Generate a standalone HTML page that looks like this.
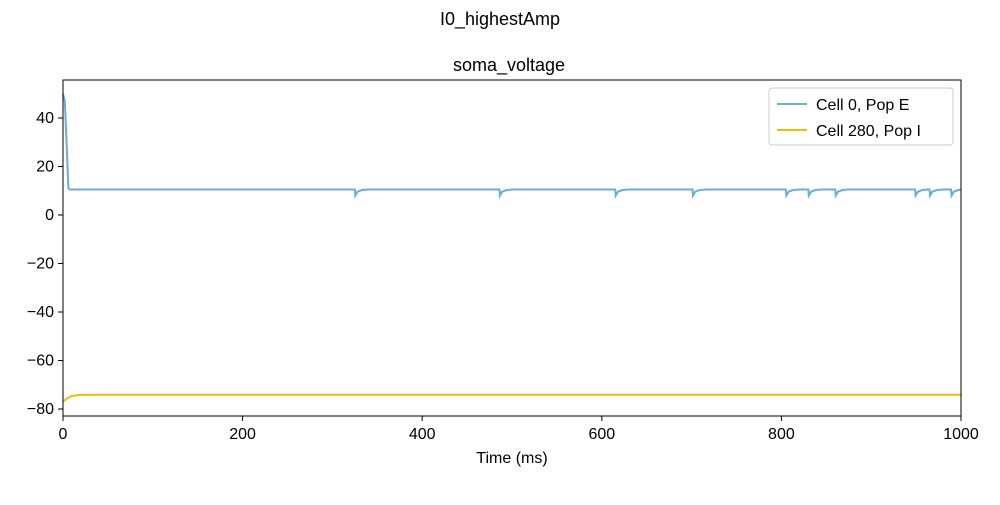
<!DOCTYPE html>
<html><head><meta charset="utf-8"><style>
body{margin:0;background:#fff;font-family:"Liberation Sans",sans-serif}
</style></head><body>
<svg id="chart" width="1000" height="500" xmlns="http://www.w3.org/2000/svg" font-family="Liberation Sans, sans-serif">
<text x="500" y="25" text-anchor="middle" font-size="18">I0_highestAmp</text>
<text x="509" y="71" text-anchor="middle" font-size="18">soma_voltage</text>
<g id="plot"></g>
<rect x="63" y="80" width="898" height="336" fill="none" stroke="#000" stroke-width="1"/>
<text x="512" y="463" text-anchor="middle" font-size="16">Time (ms)</text>
<g>
<rect x="769" y="88" width="184" height="57" rx="3" fill="#fff" stroke="#ccc"/>
<line x1="777" y1="104" x2="807" y2="104" stroke="#6baed6" stroke-width="2"/>
<text x="816" y="110" font-size="16">Cell 0, Pop E</text>
<line x1="777" y1="130" x2="807" y2="130" stroke="#e6c200" stroke-width="2"/>
<text x="816" y="136" font-size="16">Cell 280, Pop I</text>
</g>
</svg>
<script>
const xTicks=[0,200,400,600,800,1000];
const yTicks=[40,20,0,-20,-40,-60,-80];
const spikeTimes=[325,486,615,701,805,830,860,949,965,989];
const baseline=10.5;
const dipOffsets=[0,0.5,3,8,15];
const dipValues=[10.5,8.0,9.6,10.3,10.5];
const initTimes=[0,2,4,6,8];
const initValues=[50,47,30,11,10.5];
const iTimes=[0,5,10,20,40,1000];
const iValues=[-77,-75.5,-74.6,-74.2,-74.1,-74.1];
const X=t=>63+t*0.898, Y=v=>215-v*2.425;
const svg=document.getElementById('chart'), g=document.getElementById('plot'), NS='http://www.w3.org/2000/svg';
function mk(tag,a){const e=document.createElementNS(NS,tag);for(const k in a)e.setAttribute(k,a[k]);return e;}
xTicks.forEach(t=>{
 const l=mk('line',{x1:X(t),x2:X(t),y1:416,y2:421,stroke:'#000'});
 
 
 svg.appendChild(l);
 const tx=mk('text',{x:X(t),y:439,'text-anchor':'middle','font-size':16});
 
 
 tx.textContent=t;svg.appendChild(tx);
});
yTicks.forEach(v=>{
 const l=mk('line',{x1:58,x2:63,y1:Y(v),y2:Y(v),stroke:'#000'});
 
 
 svg.appendChild(l);
 const tx=mk('text',{x:54,y:Y(v)+5,'text-anchor':'end','font-size':16});
 
 
 tx.textContent=(v<0?'\u2212'+(-v):v);svg.appendChild(tx);
});
let pts=initTimes.map((t,i)=>[t,initValues[i]]);
spikeTimes.forEach(s=>dipOffsets.forEach((o,i)=>{if(s+o<=1000)pts.push([s+o,dipValues[i]]);}));
pts.push([1000,baseline]);
const pE=mk('polyline',{points:pts.map(p=>X(p[0])+','+Y(p[1])).join(' '),fill:'none',stroke:'#6baed6','stroke-width':2});


g.appendChild(pE);
const pI=mk('polyline',{points:iTimes.map((t,i)=>X(t)+','+Y(iValues[i])).join(' '),fill:'none',stroke:'#e6c200','stroke-width':2});


g.appendChild(pI);
</script>
</body></html>
